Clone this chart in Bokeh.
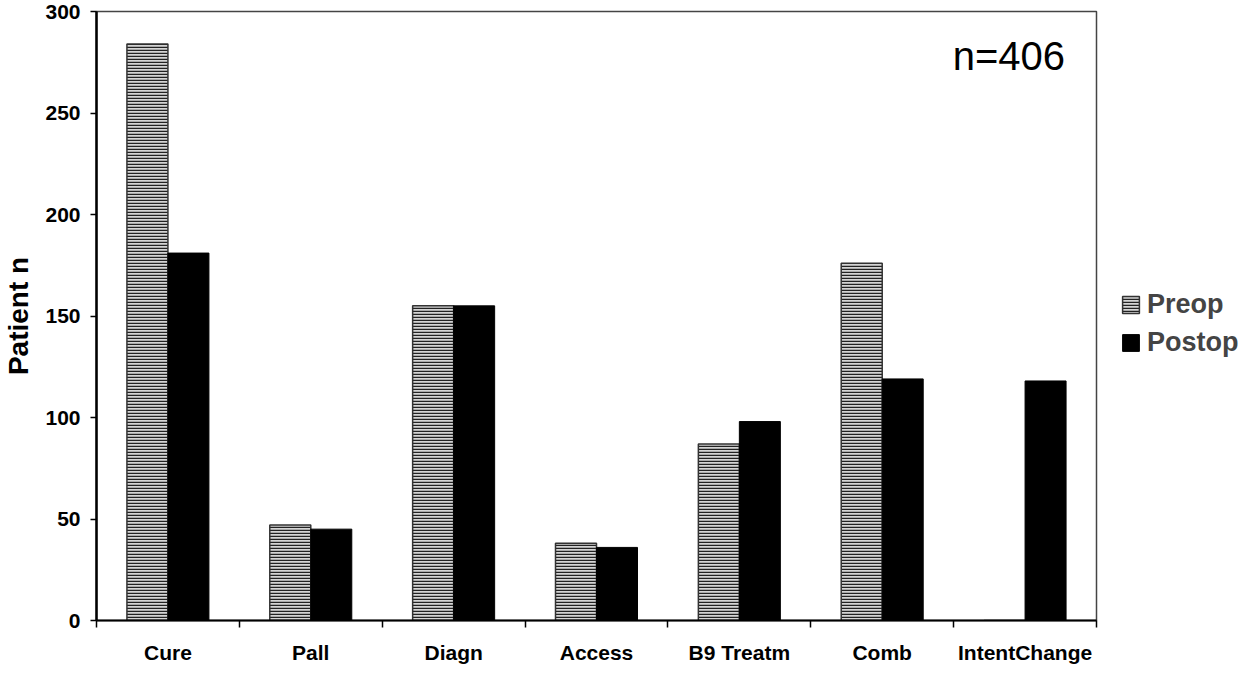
from bokeh.plotting import figure
from bokeh.models import Range1d, FixedTicker, Legend, LegendItem, Label, ColumnDataSource
from bokeh.embed import file_html
from bokeh.resources import INLINE

categories = ["Cure", "Pall", "Diagn", "Access", "B9 Treatm", "Comb", "IntentChange"]
preop = [284, 47, 155, 38, 87, 176, 0]
postop = [181, 45, 155, 36, 98, 119, 118]
y_ticks = [0, 50, 100, 150, 200, 250, 300]

FONT = "Liberation Sans"

idx = list(range(len(categories)))
bw = 0.287
src_pre = ColumnDataSource(dict(x=[i + 0.5 - bw / 2 for i in idx], top=preop))
src_post = ColumnDataSource(dict(x=[i + 0.5 + bw / 2 for i in idx], top=postop))

p = figure(frame_width=1000, frame_height=609, output_backend="svg", toolbar_location=None,
           x_range=Range1d(0, len(categories)), y_range=Range1d(0, 300),
           min_border_top=11, min_border_left=89, min_border_right=0, min_border_bottom=37)

r_pre = p.vbar(x="x", top="top", width=bw, source=src_pre, fill_color="#d4d4d4",
               hatch_pattern="-", hatch_color="#222222", hatch_scale=3, hatch_weight=1.5,
               line_color="#333333", line_width=1.5)
r_post = p.vbar(x="x", top="top", width=bw, source=src_post, fill_color="black",
                line_color="black", line_width=1)

p.xgrid.visible = False
p.ygrid.visible = False
p.outline_line_color = "#444444"
p.outline_line_width = 1.5
p.background_fill_color = "white"
p.border_fill_color = "white"

xa = p.xaxis[0]
xa.ticker = FixedTicker(ticks=[i + 0.5 for i in idx], minor_ticks=list(range(len(categories) + 1)))
xa.major_label_overrides = {i + 0.5: c for i, c in zip(idx, categories)}
xa.major_tick_line_color = None
xa.minor_tick_in = 0
xa.minor_tick_out = 7
xa.minor_tick_line_color = "black"
xa.minor_tick_line_width = 1.5
xa.axis_line_color = "black"
xa.axis_line_width = 2
xa.major_label_text_font = FONT
xa.major_label_text_font_style = "bold"
xa.major_label_text_font_size = "21px"
xa.major_label_text_color = "black"
xa.major_label_standoff = 13

ya = p.yaxis[0]
ya.ticker = FixedTicker(ticks=y_ticks)
ya.minor_tick_line_color = None
ya.major_tick_in = 0
ya.major_tick_out = 6
ya.major_tick_line_width = 1.5
ya.axis_line_color = "black"
ya.axis_line_width = 2.5
ya.major_label_text_font = FONT
ya.major_label_text_font_style = "bold"
ya.major_label_text_font_size = "21px"
ya.major_label_text_color = "black"
ya.major_label_standoff = 10
ya.axis_label = "Patient n"
ya.axis_label_text_font = FONT
ya.axis_label_text_font_style = "bold"
ya.axis_label_text_font_size = "28px"
ya.axis_label_text_color = "black"
ya.axis_label_standoff = 8

p.add_layout(Label(x=6.78, y=267, text="n=406", text_align="right", text_font=FONT,
                   text_font_size="40px", text_color="black"))

legend = Legend(items=[LegendItem(label="Preop", renderers=[r_pre]),
                       LegendItem(label="Postop", renderers=[r_post])],
                location=(24, 261), border_line_color=None, background_fill_alpha=0,
                label_text_font=FONT, label_text_font_style="bold", label_text_font_size="27px",
                glyph_width=21, glyph_height=21, label_height=34, spacing=4, padding=0,
                margin=14, label_standoff=6)
p.add_layout(legend, "right")

open("out.html", "w").write(file_html(p, INLINE))
